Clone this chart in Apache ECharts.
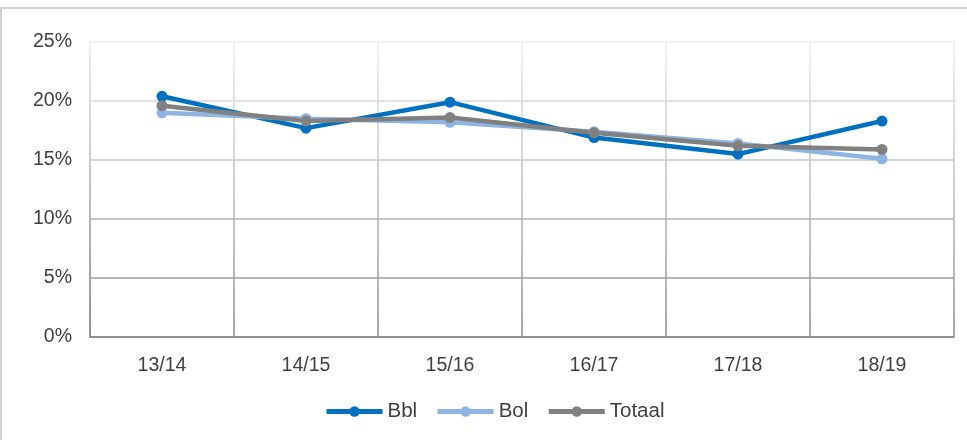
<!DOCTYPE html>
<html lang="en">
<head>
    <meta charset="UTF-8">
    <title>Chart</title>
    <script src="https://cdn.jsdelivr.net/npm/echarts@6/dist/echarts.min.js"></script>
    <style>
        html, body { margin: 0; padding: 0; background: #fff; }
        #frame { position: absolute; left: 0; top: 7px; width: 980px; height: 450px; border-top: 2px solid #d0d0d0; border-left: 2px solid #d0d0d0; }
        #main { position: absolute; left: 0; top: 0; width: 967px; height: 440px; }
    </style>
</head>
<body>
<div id="frame"></div>
<div id="main"></div>
<script>
    var categories = ['13/14', '14/15', '15/16', '16/17', '17/18', '18/19'];
    var bbl = [20.4, 17.7, 19.9, 16.9, 15.5, 18.3];
    var bol = [19.0, 18.5, 18.2, 17.4, 16.4, 15.1];
    var totaal = [19.6, 18.3, 18.6, 17.3, 16.2, 15.9];
    var yTicks = [0, 5, 10, 15, 20, 25];

    var myChart = echarts.init(document.getElementById('main'));

    // grid lines fade from dark at the bottom to light at the top
    function fade() {
        return new echarts.graphic.LinearGradient(0, 42, 0, 337, [
            { offset: 0, color: '#eeeeee' },
            { offset: 1, color: '#8a8a8a' }
        ], true);
    }

    function line(name, data, color) {
        return {
            name: name,
            type: 'line',
            data: data,
            symbol: 'circle',
            symbolSize: 11,
            lineStyle: { width: 4.5, color: color },
            itemStyle: { color: color },
            animation: false
        };
    }

    var option = {
        textStyle: { fontFamily: 'Liberation Sans, Arial, sans-serif' },
        grid: { left: 90, right: 13, top: 42, bottom: 103 },
        legend: {
            top: 396,
            left: 319,
            itemWidth: 56,
            itemHeight: 13,
            itemGap: 18,
            lineStyle: { width: 5 },
            textStyle: { fontSize: 20.5, color: '#404040' },
            data: ['Bbl', 'Bol', 'Totaal']
        },
        xAxis: {
            type: 'category',
            data: categories,
            boundaryGap: true,
            axisLine: { lineStyle: { color: '#8a8a8a', width: 1.5 } },
            axisTick: { show: false },
            axisLabel: { fontSize: 19.5, color: '#404040', margin: 19 },
            splitLine: { show: true, lineStyle: { color: fade(), width: 1.5 } }
        },
        yAxis: {
            type: 'value',
            min: yTicks[0],
            max: yTicks[yTicks.length - 1],
            interval: 5,
            axisLine: { show: true, lineStyle: { color: fade(), width: 1.5 } },
            axisTick: { show: false },
            axisLabel: { fontSize: 19.5, color: '#404040', margin: 18, formatter: '{value}%' },
            splitLine: { lineStyle: { color: fade(), width: 1.5 } }
        },
        series: [
            line('Bbl', bbl, '#0070c0'),
            line('Bol', bol, '#8db4e2'),
            line('Totaal', totaal, '#808080')
        ]
    };

    myChart.setOption(option);
</script>
</body>
</html>
